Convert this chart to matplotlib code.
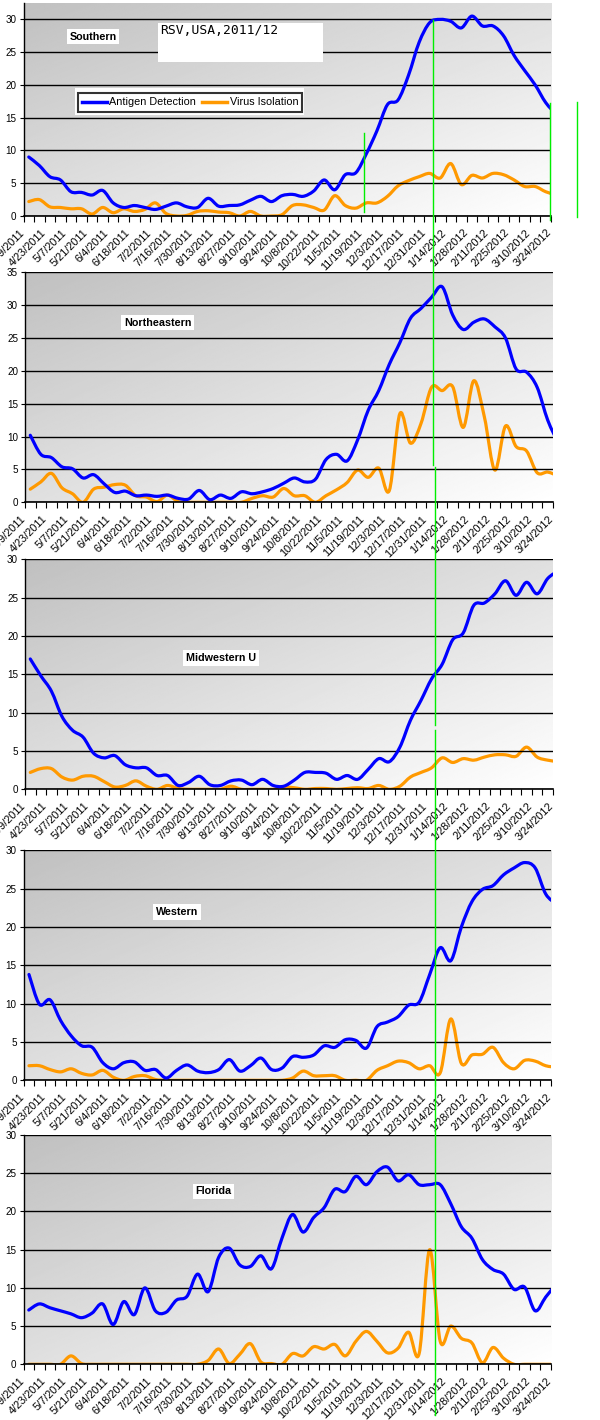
import numpy as np
import matplotlib
matplotlib.use("Agg")
import matplotlib.pyplot as plt
from matplotlib.path import Path
from matplotlib.patches import PathPatch, Rectangle
from matplotlib.lines import Line2D
from matplotlib.transforms import offset_copy, Bbox

plt.rcParams['font.family'] = ['Liberation Sans Narrow', 'Liberation Sans', 'DejaVu Sans']

# weekly categories, every other one labelled
week_labels = ['4/9/2011', '4/23/2011', '5/7/2011', '5/21/2011', '6/4/2011', '6/18/2011',
               '7/2/2011', '7/16/2011', '7/30/2011', '8/13/2011', '8/27/2011', '9/10/2011',
               '9/24/2011', '10/8/2011', '10/22/2011', '11/5/2011', '11/19/2011', '12/3/2011',
               '12/17/2011', '12/31/2011', '1/14/2012', '1/28/2012', '2/11/2012', '2/25/2012',
               '3/10/2012', '3/24/2012']

regions = ['Southern', 'Northeastern', 'Midwestern U', 'Western', 'Florida']

southern_ag = [9.0, 7.7, 6.0, 5.5, 3.7, 3.6, 3.2, 3.9, 2.0, 1.3, 1.6, 1.3, 1.0, 1.5, 2.0, 1.4, 1.3,
               2.7, 1.5, 1.6, 1.7, 2.4, 3.0, 2.2, 3.1, 3.3, 3.0, 3.8, 5.5, 4.0, 6.3, 6.6, 9.5, 13.0,
               17.0, 17.7, 21.5, 26.5, 29.5, 30.0, 29.7, 28.7, 30.5, 29.0, 29.0, 27.5, 24.5, 22.2,
               20.0, 17.3, 15.5]
southern_vi = [2.2, 2.5, 1.4, 1.3, 1.1, 1.1, 0.3, 1.3, 0.5, 1.1, 0.7, 1.0, 2.0, 0.4, 0.0, 0.1, 0.7,
               0.8, 0.6, 0.5, 0.0, 0.7, 0.0, 0.0, 0.2, 1.6, 1.7, 1.3, 0.9, 3.1, 1.6, 1.2, 2.0, 2.0,
               3.0, 4.6, 5.4, 6.0, 6.5, 5.8, 8.0, 4.8, 6.2, 5.8, 6.5, 6.3, 5.5, 4.5, 4.5, 3.7, 3.2]

northeast_ag = [10.2, 7.3, 6.8, 5.4, 5.1, 3.7, 4.2, 2.8, 1.5, 1.7, 1.0, 1.1, 0.9, 1.1, 0.6, 0.5, 1.8,
                0.4, 1.1, 0.6, 1.6, 1.3, 1.6, 2.1, 2.9, 3.7, 3.1, 3.5, 6.5, 7.3, 6.3, 9.5, 14.0, 17.0,
                21.0, 24.3, 28.0, 29.5, 31.2, 32.8, 28.5, 26.3, 27.4, 27.9, 26.7, 25.0, 20.3, 19.8,
                17.5, 12.5, 9.0]
northeast_vi = [2.0, 3.1, 4.4, 2.2, 1.3, 0.0, 2.0, 2.3, 2.7, 2.6, 1.0, 0.8, 0.1, 1.1, 0.1, 0.0, 0.0,
                0.0, 0.0, 0.0, 0.0, 0.6, 1.0, 0.8, 2.1, 1.0, 1.0, 0.0, 1.0, 1.9, 3.0, 4.9, 3.8, 5.2,
                1.8, 13.5, 9.0, 12.0, 17.5, 17.0, 17.6, 11.4, 18.5, 13.0, 4.9, 11.6, 8.5, 7.8, 4.5,
                4.6, 4.0]

midwest_ag = [17.0, 14.8, 12.8, 9.5, 7.7, 6.8, 4.7, 4.1, 4.4, 3.2, 2.8, 2.8, 1.8, 1.8, 0.5, 0.9, 1.7,
              0.6, 0.5, 1.1, 1.2, 0.6, 1.3, 0.5, 0.4, 1.2, 2.2, 2.2, 2.1, 1.3, 1.8, 1.3, 2.6, 4.0,
              3.6, 5.5, 9.0, 11.6, 14.4, 16.3, 19.5, 20.4, 24.0, 24.3, 25.5, 27.2, 25.3, 27.0, 25.5,
              27.5, 28.5]
midwest_vi = [2.2, 2.7, 2.7, 1.6, 1.2, 1.7, 1.7, 1.0, 0.3, 0.5, 1.1, 0.4, 0.0, 0.5, 0.1, 0.0, 0.0,
              0.0, 0.0, 0.4, 0.0, 0.0, 0.0, 0.0, 0.3, 0.2, 0.0, 0.1, 0.1, 0.0, 0.1, 0.2, 0.1, 0.5,
              0.0, 0.4, 1.6, 2.2, 2.8, 4.1, 3.5, 4.0, 3.8, 4.2, 4.5, 4.5, 4.3, 5.5, 4.2, 3.8, 3.6]

western_ag = [13.8, 9.9, 10.5, 7.8, 5.8, 4.5, 4.3, 2.3, 1.5, 2.3, 2.4, 1.3, 1.4, 0.3, 1.3, 2.0, 1.2,
              1.0, 1.4, 2.7, 1.2, 1.9, 2.9, 1.4, 1.6, 3.1, 3.0, 3.3, 4.5, 4.3, 5.3, 5.2, 4.2, 7.0,
              7.6, 8.3, 9.8, 10.2, 13.8, 17.3, 15.6, 20.0, 23.3, 24.9, 25.4, 26.8, 27.7, 28.4, 27.7,
              24.3, 23.0]
western_vi = [1.9, 1.9, 1.4, 1.1, 1.5, 0.9, 0.7, 1.3, 0.4, 0.0, 0.5, 0.6, 0.1, 0.0, 0.0, 0.0, 0.0,
              0.0, 0.0, 0.0, 0.0, 0.0, 0.0, 0.0, 0.0, 0.3, 1.2, 0.6, 0.6, 0.6, 0.0, 0.0, 0.0, 1.3,
              1.9, 2.5, 2.3, 1.5, 1.9, 1.0, 8.0, 2.2, 3.3, 3.4, 4.3, 2.3, 1.5, 2.6, 2.5, 1.9, 1.7]

florida_ag = [7.1, 7.9, 7.4, 7.0, 6.6, 6.1, 6.7, 7.9, 5.2, 8.2, 6.5, 10.0, 7.0, 6.8, 8.4, 8.9, 11.8,
              9.5, 14.0, 15.2, 13.0, 12.8, 14.2, 12.5, 16.5, 19.6, 17.3, 19.2, 20.5, 22.9, 22.6, 24.6,
              23.5, 25.2, 25.8, 24.0, 24.8, 23.5, 23.5, 23.5, 21.0, 18.0, 16.5, 13.7, 12.4, 11.8,
              9.8, 10.1, 7.0, 8.8, 10.5]
florida_vi = [0.0, 0.0, 0.0, 0.0, 1.1, 0.1, 0.0, 0.0, 0.0, 0.0, 0.0, 0.0, 0.0, 0.0, 0.0, 0.0, 0.0,
              0.5, 2.0, 0.1, 1.3, 2.7, 0.3, 0.1, 0.0, 1.4, 1.1, 2.3, 2.0, 2.6, 1.1, 3.0, 4.3, 3.0,
              1.5, 2.1, 4.2, 1.4, 15.0, 3.0, 5.0, 3.4, 2.8, 0.2, 2.2, 0.8, 0.0, 0.0, 0.0, 0.0, 0.0]

antigen = [southern_ag, northeast_ag, midwest_ag, western_ag, florida_ag]
virus = [southern_vi, northeast_vi, midwest_vi, western_vi, florida_vi]
y_max = [32.5, 35, 30, 30, 30]
y_top_tick = [30, 35, 30, 30, 30]

W, H = 600, 1420
# panel boxes in pixels: left, right, top, bottom
boxes = [(23.5, 551, 3, 216), (25, 553, 272.3, 502.3), (25, 553, 559.3, 789.3),
         (23.7, 551, 850.3, 1080.3), (23.5, 551, 1135, 1364.3)]
label_pos = [(93, 36.5), (157.5, 322.5), (221, 658), (177, 912), (213.5, 1191.5)]

BLUE = '#0000FF'
ORANGE = '#FF9900'
GREEN = '#00EE00'


def smooth_path(xs, ys):
    # Catmull-Rom style smoothing drawn as cubic Bezier segments through the data
    n = len(xs)
    verts = [(xs[0], ys[0])]
    codes = [Path.MOVETO]
    for k in range(n - 1):
        xa, ya = (xs[k - 1], ys[k - 1]) if k > 0 else (xs[k], ys[k])
        xb, yb = (xs[k + 2], ys[k + 2]) if k + 2 < n else (xs[k + 1], ys[k + 1])
        c1 = (xs[k] + (xs[k + 1] - xa) / 6, ys[k] + (ys[k + 1] - ya) / 6)
        c2 = (xs[k + 1] - (xb - xs[k]) / 6, ys[k + 1] - (yb - ys[k]) / 6)
        verts += [c1, c2, (xs[k + 1], ys[k + 1])]
        codes += [Path.CURVE4] * 3
    return Path(verts, codes)


fig = plt.figure(figsize=(W / 100, H / 100), dpi=100)
fig.patch.set_facecolor('white')
renderer = fig.canvas.get_renderer()


def fit_size(s, target_px, **kw):
    # font size that makes the string about target_px wide with whatever font is installed
    t = fig.text(0, 0, s, fontsize=10, **kw)
    w = t.get_window_extent(renderer).width
    t.remove()
    return 10 * target_px / w


xlab_size = fit_size('12/31/2011', 54)
ylab_size = min(8.5, fit_size('30', 11))
leg_size = fit_size('Antigen Detection', 86)
reg_size = fit_size('Northeastern', 67, fontweight='bold')
title_size = fit_size('RSV,USA,2011/12', 118, family='DejaVu Sans Mono')

g = np.linspace(0, 1, 200)
grad = 192 + 63 * (g[None, :] + g[:, None]) / 2

clip = Bbox.from_extents(0, 0, 558, H)

for p in range(5):
    l, r, t, b = boxes[p]
    ax = fig.add_axes([l / W, 1 - b / H, (r - l) / W, (b - t) / H])
    ax.imshow(grad, extent=[0, 1, 0, 1], transform=ax.transAxes, cmap='gray',
              vmin=0, vmax=255, aspect='auto', zorder=0, interpolation='bilinear')
    x = np.arange(len(antigen[p]))
    ax.add_patch(PathPatch(smooth_path(x, antigen[p]), facecolor='none', edgecolor=BLUE,
                           lw=2.3, zorder=3, capstyle='round', joinstyle='round'))
    ax.add_patch(PathPatch(smooth_path(x, virus[p]), facecolor='none', edgecolor=ORANGE,
                           lw=2.3, zorder=2, capstyle='round', joinstyle='round'))
    ax.set_xlim(-0.45, 49.3)
    ax.set_ylim(0, y_max[p])
    ax.set_yticks(np.arange(0, y_top_tick[p] + 1, 5))
    ax.yaxis.grid(True, color='black', lw=1.0)
    ax.set_axisbelow(False)
    for gl in ax.get_ygridlines():
        gl.set_zorder(1)
    ax.tick_params(axis='y', length=3, width=0.8, labelsize=ylab_size, pad=2, direction='out')
    ax.set_xticks(np.arange(-0.5, 50, 1))
    ax.set_xticklabels([])
    ax.tick_params(axis='x', length=4, width=0.8, direction='out')
    for s in ['top', 'right']:
        ax.spines[s].set_visible(False)
    ax.spines['left'].set_linewidth(1.0)
    ax.spines['bottom'].set_linewidth(1.2)
    tr = offset_copy(ax.get_xaxis_transform(), fig=fig, x=-6, y=-15, units='dots')
    for k, lab in enumerate(week_labels):
        txt = ax.text(2 * k, 0, lab, transform=tr, rotation=45, rotation_mode='anchor',
                      ha='right', va='center', fontsize=xlab_size, clip_on=False)
        txt.set_clip_box(clip)
        txt.set_clip_on(True)
    cx, cy = label_pos[p]
    fig.text(cx / W, 1 - cy / H, regions[p], ha='center', va='center', fontsize=reg_size,
             fontweight='bold', bbox=dict(facecolor='white', edgecolor='none', pad=2))
    if p == 0:
        ax0 = ax

# legend and title box on the first panel
ax0.add_patch(Rectangle((74.6 / W, 1 - 115 / H), (303.5 - 74.6) / W, 26.7 / H,
                        transform=fig.transFigure, facecolor='white', edgecolor='none',
                        zorder=6, clip_on=False))
handles = [Line2D([], [], color=BLUE, lw=2.5), Line2D([], [], color=ORANGE, lw=2.5)]
leg = ax0.legend(handles, ['Antigen Detection', 'Virus Isolation'], ncol=2,
                 loc='center', bbox_to_anchor=(190 / W, 1 - 102.4 / H),
                 bbox_transform=fig.transFigure, fontsize=leg_size, frameon=True, fancybox=False,
                 edgecolor='black', handlelength=2.3, handletextpad=0.2, columnspacing=0.6,
                 borderpad=0.4, borderaxespad=0)
leg.get_frame().set_linewidth(1.5)
leg.set_zorder(7)

ax0.add_patch(Rectangle((158 / W, 1 - 61.7 / H), (322.6 - 158) / W, 38.4 / H,
                        transform=fig.transFigure, facecolor='white', edgecolor='none',
                        zorder=6, clip_on=False))
fig.text(160 / W, 1 - 24 / H, 'RSV,USA,2011/12', ha='left', va='top', fontsize=title_size,
         family='DejaVu Sans Mono', zorder=8)

# green marker lines drawn over the charts
green_segments = [(433.3, 20, 465), (434.6, 467, 725), (434.6, 730, 1415),
                  (364.3, 133, 212), (550.3, 103, 220), (577.3, 102, 217)]
for gx, y0, y1 in green_segments:
    fig.add_artist(Line2D([gx / W, gx / W], [1 - y0 / H, 1 - y1 / H], color=GREEN, lw=1.0,
                          transform=fig.transFigure, zorder=10))

fig.savefig('out.png', dpi=100)
